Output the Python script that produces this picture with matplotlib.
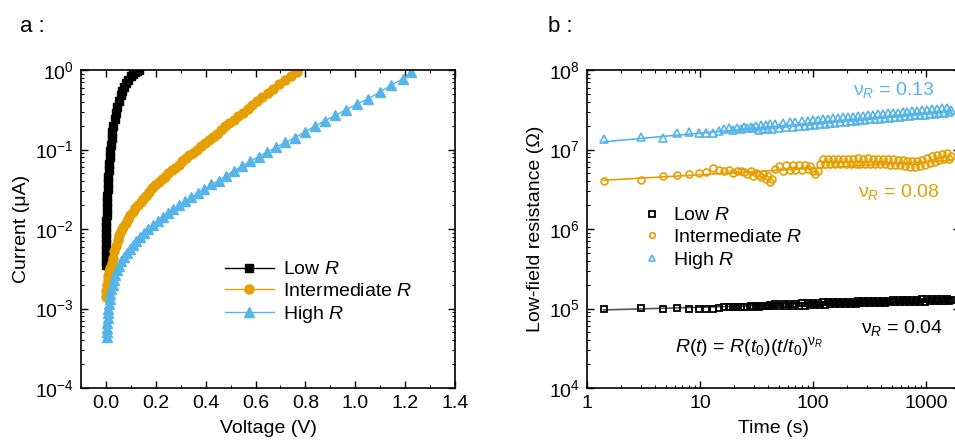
import numpy as np
import matplotlib
matplotlib.use("Agg")
import matplotlib.pyplot as plt
from matplotlib.ticker import MultipleLocator, LogLocator, NullFormatter, FixedLocator, FixedFormatter

plt.rcParams["font.family"] = ["Liberation Sans", "DejaVu Sans"]
plt.rcParams["mathtext.fontset"] = "custom"
plt.rcParams["mathtext.rm"] = "Liberation Sans"
plt.rcParams["mathtext.it"] = "Liberation Sans:italic"
plt.rcParams["mathtext.bf"] = "Liberation Sans:bold"

ORANGE = "#E69F00"
BLUE = "#56B4E9"

# ---------------------------------------------------------------------
# Panel a : I-V curves (voltage in V, current in uA)
# ---------------------------------------------------------------------
v_low = [0.000, 0.000, 0.000, 0.000, 0.000, 0.001, 0.001, 0.001, 0.002, 0.003,
         0.004, 0.005, 0.006, 0.007, 0.008, 0.009, 0.011, 0.013, 0.015, 0.017,
         0.020, 0.023, 0.026, 0.030, 0.035, 0.040, 0.046, 0.052, 0.059, 0.066,
         0.074, 0.082, 0.090, 0.099, 0.108, 0.117, 0.125, 0.131]
i_low = [3.5e-3, 4.0e-3, 4.7e-3, 5.5e-3, 6.5e-3, 7.6e-3, 8.9e-3, 1.05e-2, 1.26e-2, 1.51e-2,
         1.82e-2, 2.19e-2, 2.63e-2, 3.16e-2, 3.80e-2, 4.57e-2, 5.50e-2, 6.61e-2, 7.94e-2, 9.55e-2,
         0.115, 0.138, 0.166, 0.200, 0.240, 0.288, 0.347, 0.407, 0.479, 0.550,
         0.617, 0.692, 0.759, 0.832, 0.891, 0.933, 0.977, 1.0]

v_mid = [0.000, 0.002, 0.004, 0.007, 0.010, 0.014, 0.018, 0.023, 0.028, 0.034,
         0.040, 0.047, 0.054, 0.062, 0.070, 0.079, 0.088, 0.097, 0.107, 0.117,
         0.128, 0.139, 0.150, 0.162, 0.174, 0.186, 0.198, 0.211, 0.224, 0.237,
         0.250, 0.264, 0.278, 0.292, 0.306, 0.320, 0.335, 0.350, 0.365, 0.380,
         0.396, 0.412, 0.428, 0.444, 0.461, 0.478, 0.495, 0.513, 0.531, 0.549,
         0.568, 0.587, 0.607, 0.627, 0.648, 0.670, 0.693, 0.717, 0.741, 0.765]
i_mid = [1.38e-3, 1.66e-3, 1.95e-3, 2.29e-3, 2.57e-3, 2.88e-3, 3.24e-3, 3.72e-3, 4.27e-3, 5.25e-3,
         6.17e-3, 7.24e-3, 8.32e-3, 9.55e-3, 1.07e-2, 1.20e-2, 1.35e-2, 1.48e-2, 1.66e-2, 1.82e-2,
         2.00e-2, 2.19e-2, 2.40e-2, 2.63e-2, 2.88e-2, 3.24e-2, 3.55e-2, 3.89e-2, 4.27e-2, 4.57e-2,
         5.01e-2, 5.50e-2, 5.89e-2, 6.46e-2, 7.08e-2, 7.76e-2, 8.51e-2, 9.12e-2, 0.100, 0.110,
         0.120, 0.132, 0.145, 0.158, 0.174, 0.195, 0.214, 0.234, 0.263, 0.288,
         0.324, 0.363, 0.407, 0.457, 0.513, 0.575, 0.661, 0.759, 0.851, 0.955]

v_high = [0.005, 0.005, 0.005, 0.006, 0.007, 0.008, 0.010, 0.012, 0.015, 0.018,
          0.022, 0.027, 0.032, 0.038, 0.045, 0.053, 0.062, 0.072, 0.083, 0.095,
          0.108, 0.122, 0.137, 0.153, 0.170, 0.188, 0.207, 0.227, 0.248, 0.270,
          0.293, 0.317, 0.342, 0.368, 0.395, 0.423, 0.452, 0.482, 0.513, 0.545,
          0.578, 0.612, 0.647, 0.683, 0.720, 0.758, 0.797, 0.837, 0.878, 0.920,
          0.963, 1.007, 1.052, 1.098, 1.145, 1.190, 1.225]
i_high = [4.37e-4, 5.01e-4, 5.75e-4, 6.61e-4, 7.59e-4, 8.71e-4, 1.00e-3, 1.15e-3, 1.32e-3, 1.51e-3,
          1.74e-3, 2.00e-3, 2.29e-3, 2.63e-3, 3.02e-3, 3.47e-3, 3.98e-3, 4.47e-3, 5.01e-3, 5.62e-3,
          6.31e-3, 7.08e-3, 7.94e-3, 8.91e-3, 1.00e-2, 1.12e-2, 1.26e-2, 1.41e-2, 1.58e-2, 1.78e-2,
          2.00e-2, 2.24e-2, 2.51e-2, 2.82e-2, 3.16e-2, 3.63e-2, 4.07e-2, 4.68e-2, 5.37e-2, 6.17e-2,
          7.08e-2, 8.13e-2, 9.33e-2, 0.107, 0.123, 0.141, 0.166, 0.195, 0.229, 0.269,
          0.316, 0.372, 0.437, 0.525, 0.646, 0.776, 0.933]

# ---------------------------------------------------------------------
# Panel b : low-field resistance vs time
# ---------------------------------------------------------------------
time_s = [1.4, 3.0, 4.7, 6.3, 8.0, 9.7, 11.3, 13.0, 14.6, 16.3,
          18.0, 19.6, 21.3, 23.0, 24.6, 26.3, 28.0, 29.6, 31.3, 33.0,
          34.6, 36.3, 38.0, 39.6, 41.3, 43, 46, 50, 54, 58,
          62, 66, 70, 75, 80, 85, 90, 95, 100, 105,
          110, 116, 122, 128, 135, 142, 150, 158, 166, 175,
          184, 194, 204, 215, 226, 238, 250, 263, 277, 291,
          306, 322, 339, 356, 375, 394, 414, 436, 458, 482,
          507, 533, 561, 590, 620, 652, 686, 721, 758, 797,
          838, 881, 926, 974, 1024, 1077, 1132, 1190, 1251, 1316,
          1383, 1454, 1529, 1608, 1650]

r_high = [1.34e7, 1.45e7, 1.41e7, 1.63e7, 1.64e7, 1.62e7, 1.60e7, 1.63e7, 1.72e7, 1.80e7,
          1.84e7, 1.78e7, 1.86e7, 1.82e7, 1.90e7, 1.85e7, 1.92e7, 1.86e7, 2.00e7, 1.77e7,
          2.03e7, 1.80e7, 2.05e7, 1.81e7, 2.08e7, 1.83e7, 2.11e7, 1.87e7, 2.15e7, 1.91e7,
          2.19e7, 1.94e7, 2.23e7, 1.97e7, 2.27e7, 2.00e7, 2.30e7, 2.03e7, 2.33e7, 2.06e7,
          2.36e7, 2.09e7, 2.39e7, 2.12e7, 2.42e7, 2.14e7, 2.46e7, 2.17e7, 2.49e7, 2.20e7,
          2.53e7, 2.23e7, 2.56e7, 2.27e7, 2.59e7, 2.29e7, 2.62e7, 2.32e7, 2.66e7, 2.35e7,
          2.70e7, 2.39e7, 2.73e7, 2.42e7, 2.77e7, 2.44e7, 2.80e7, 2.48e7, 2.84e7, 2.51e7,
          2.88e7, 2.55e7, 2.92e7, 2.58e7, 2.95e7, 2.61e7, 3.00e7, 2.65e7, 3.04e7, 2.68e7,
          3.07e7, 2.72e7, 3.11e7, 2.75e7, 3.16e7, 2.79e7, 3.20e7, 2.83e7, 3.24e7, 2.87e7,
          3.28e7, 2.90e7, 3.33e7, 2.94e7, 3.14e7]

r_mid = [4.0e6, 4.1e6, 4.7e6, 4.8e6, 4.97e6, 5.06e6, 5.25e6, 5.8e6, 5.6e6, 5.4e6,
         5.5e6, 5.1e6, 5.4e6, 5.3e6, 5.2e6, 4.9e6, 5.3e6, 4.6e6, 5.0e6, 4.8e6,
         4.5e6, 4.9e6, 4.2e6, 4.6e6, 3.9e6, 4.3e6, 5.7e6, 6.2e6, 5.4e6, 6.3e6,
         5.5e6, 6.3e6, 5.5e6, 6.4e6, 5.6e6, 6.4e6, 5.7e6, 6.2e6, 5.3e6, 4.9e6,
         5.4e6, 6.5e6, 7.5e6, 6.5e6, 7.6e6, 6.6e6, 7.7e6, 6.6e6, 7.6e6, 6.5e6,
         7.7e6, 6.6e6, 7.6e6, 6.5e6, 7.7e6, 6.6e6, 7.8e6, 6.6e6, 7.7e6, 6.5e6,
         7.8e6, 6.6e6, 7.6e6, 6.5e6, 7.7e6, 6.6e6, 7.6e6, 6.5e6, 7.5e6, 6.4e6,
         7.5e6, 6.4e6, 7.4e6, 6.3e6, 7.3e6, 6.2e6, 7.2e6, 6.1e6, 7.1e6, 6.1e6,
         7.1e6, 6.2e6, 7.4e6, 6.4e6, 7.8e6, 6.7e6, 8.2e6, 7.0e6, 8.5e6, 7.3e6,
         8.8e6, 7.5e6, 9.0e6, 7.6e6, 8.4e6]

r_low = [9.8e4, 1.01e5, 1.00e5, 1.01e5, 1.00e5, 1.00e5, 0.99e5, 0.99e5, 1.02e5, 1.03e5,
         1.04e5, 1.05e5, 1.04e5, 1.05e5, 1.04e5, 1.05e5, 1.06e5, 1.05e5, 1.06e5, 1.05e5,
         1.07e5, 1.08e5, 1.09e5, 1.08e5, 1.10e5, 1.09e5, 1.13e5, 1.06e5, 1.14e5, 1.07e5,
         1.15e5, 1.08e5, 1.15e5, 1.08e5, 1.16e5, 1.09e5, 1.17e5, 1.10e5, 1.18e5, 1.11e5,
         1.18e5, 1.11e5, 1.19e5, 1.12e5, 1.20e5, 1.13e5, 1.20e5, 1.13e5, 1.21e5, 1.14e5,
         1.21e5, 1.14e5, 1.22e5, 1.15e5, 1.22e5, 1.15e5, 1.23e5, 1.16e5, 1.24e5, 1.16e5,
         1.24e5, 1.17e5, 1.25e5, 1.17e5, 1.25e5, 1.18e5, 1.26e5, 1.18e5, 1.26e5, 1.19e5,
         1.27e5, 1.19e5, 1.27e5, 1.20e5, 1.28e5, 1.20e5, 1.28e5, 1.21e5, 1.29e5, 1.21e5,
         1.29e5, 1.22e5, 1.30e5, 1.22e5, 1.30e5, 1.23e5, 1.31e5, 1.23e5, 1.32e5, 1.24e5,
         1.32e5, 1.24e5, 1.33e5, 1.25e5, 1.29e5]

# power-law fits R(t) = R(t0)(t/t0)^nu, end points
fit_t = [1.4, 1700]
fit_high = [1.25e7, 3.1e7]
fit_mid = [4.1e6, 7.3e6]
fit_low = [9.6e4, 1.27e5]

FS = 14

fig = plt.figure(figsize=(9.55, 4.47), dpi=100)
W, H = 955.0, 447.0

# --- panel a
ax1 = fig.add_axes([81 / W, 1 - 388 / H, 374 / W, 318 / H])
ax1.plot(v_low, i_low, color="black", marker="s", ms=6, lw=1, label="Low $\\mathit{R}$")
ax1.plot(v_mid, i_mid, color=ORANGE, marker="o", ms=6.5, lw=1, label="Intermediate $\\mathit{R}$")
ax1.plot(v_high, i_high, color=BLUE, marker="^", ms=6.5, lw=1, label="High $\\mathit{R}$")
ax1.set_yscale("log")
ax1.set_xlim(-0.1, 1.4)
ax1.set_ylim(1e-4, 1)
ax1.xaxis.set_major_locator(MultipleLocator(0.2))
ax1.xaxis.set_minor_locator(MultipleLocator(0.1))
ax1.xaxis.set_major_formatter(plt.FuncFormatter(lambda x, p: f"{x:.1f}"))
ax1.yaxis.set_minor_locator(LogLocator(base=10, subs=np.arange(2, 10), numticks=20))
ax1.yaxis.set_minor_formatter(NullFormatter())
ax1.set_xlabel("Voltage (V)", fontsize=FS, labelpad=6)
ax1.set_ylabel("Current (\u03bcA)", fontsize=FS, labelpad=4)
ax1.legend(loc="upper left", bbox_to_anchor=(0.385, 0.40), frameon=False, fontsize=FS,
           handlelength=2.5, handletextpad=0.5, labelspacing=0.2, borderpad=0, borderaxespad=0)

# --- panel b
ax2 = fig.add_axes([587 / W, 1 - 388 / H, 373 / W, 318 / H])
ax2.plot(fit_t, fit_high, color=BLUE, lw=1.2)
ax2.plot(fit_t, fit_mid, color=ORANGE, lw=1.2)
ax2.plot(fit_t, fit_low, color="#555555", lw=1.2)
ax2.plot(time_s, r_low, ls="none", marker="s", ms=5, mfc="none", mec="black", mew=1.3,
         label="Low $\\mathit{R}$")
ax2.plot(time_s, r_mid, ls="none", marker="o", ms=5, mfc="none", mec=ORANGE, mew=1.2,
         label="Intermediate $\\mathit{R}$")
ax2.plot(time_s, r_high, ls="none", marker="^", ms=5.5, mfc="none", mec=BLUE, mew=1.2,
         label="High $\\mathit{R}$")
ax2.set_xscale("log")
ax2.set_yscale("log")
ax2.set_xlim(1, 2000)
ax2.set_ylim(1e4, 1e8)
ax2.xaxis.set_major_locator(FixedLocator([1, 10, 100, 1000]))
ax2.xaxis.set_major_formatter(FixedFormatter(["1", "10", "100", "1000"]))
ax2.xaxis.set_minor_locator(LogLocator(base=10, subs=np.arange(2, 10), numticks=20))
ax2.xaxis.set_minor_formatter(NullFormatter())
ax2.yaxis.set_minor_locator(LogLocator(base=10, subs=np.arange(2, 10), numticks=20))
ax2.yaxis.set_minor_formatter(NullFormatter())
ax2.set_xlabel("Time (s)", fontsize=FS, labelpad=6)
ax2.set_ylabel("Low-field resistance (\u03a9)", fontsize=FS, labelpad=4)
leg2 = ax2.legend(loc="upper left", bbox_to_anchor=(0.147, 0.57), frameon=False, fontsize=FS,
                  handlelength=1.0, handletextpad=0.6, labelspacing=0.2, borderpad=0,
                  borderaxespad=0, numpoints=1, markerscale=0.8)

ax2.text(0.933, 0.937, "$\\mathrm{\\nu}_{R}$ = 0.13", transform=ax2.transAxes, ha="right",
         va="center", color=BLUE, fontsize=FS)
ax2.text(0.946, 0.616, "$\\mathrm{\\nu}_{R}$ = 0.08", transform=ax2.transAxes, ha="right",
         va="center", color=ORANGE, fontsize=FS)
ax2.text(0.954, 0.189, "$\\mathrm{\\nu}_{R}$ = 0.04", transform=ax2.transAxes, ha="right",
         va="center", color="black", fontsize=FS)
ax2.text(0.236, 0.129, "$R(t)$ = $R(t_0)(t/t_0)^{\\mathrm{\\nu}_R}$", transform=ax2.transAxes,
         ha="left", va="center", color="black", fontsize=FS)

for ax in (ax1, ax2):
    ax.tick_params(which="both", direction="in", top=True, right=True, labelsize=FS, pad=5)
    ax.tick_params(which="major", length=5, width=1)
    ax.tick_params(which="minor", length=2.5, width=0.8)
    for s in ax.spines.values():
        s.set_linewidth(1.2)

fig.text(20 / W, 1 - 27 / H, "a :", fontsize=16, va="center", ha="left")
fig.text(548 / W, 1 - 27 / H, "b :", fontsize=16, va="center", ha="left")

fig.savefig("out.png", dpi=100)
